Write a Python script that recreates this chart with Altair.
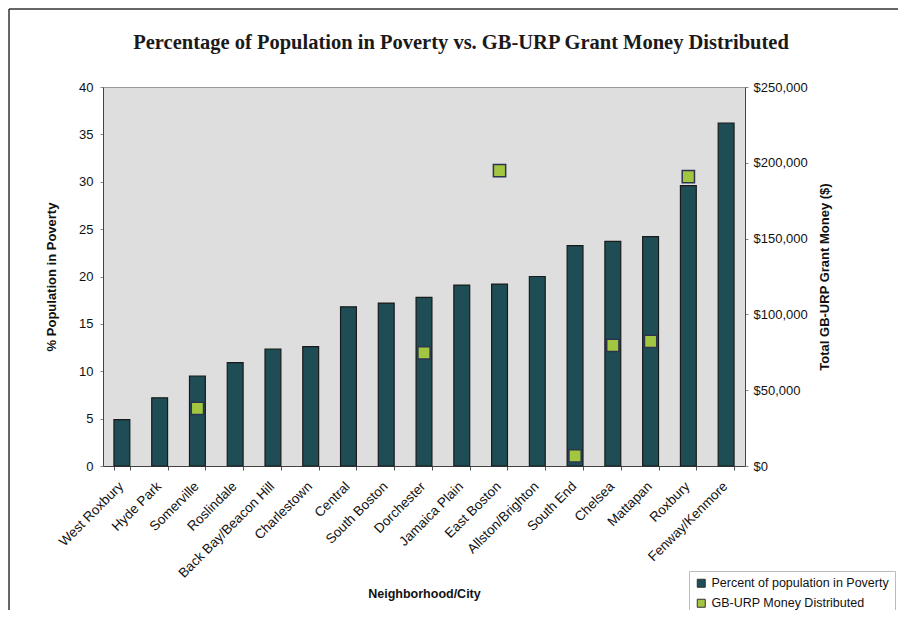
import altair as alt
import pandas as pd

neighborhoods = ["West Roxbury", "Hyde Park", "Somerville", "Roslindale", "Back Bay/Beacon Hill",
                 "Charlestown", "Central", "South Boston", "Dorchester", "Jamaica Plain",
                 "East Boston", "Allston/Brighton", "South End", "Chelsea", "Mattapan",
                 "Roxbury", "Fenway/Kenmore"]
poverty_pct = [4.9, 7.2, 9.5, 10.9, 12.35, 12.6, 16.8, 17.2, 17.8, 19.1,
               19.2, 20.0, 23.25, 23.7, 24.2, 29.6, 36.2]
grant_money = [None, None, 38000, None, None, None, None, None, 74700, None,
               194800, None, 6600, 79600, 82200, 190800, None]

SER_BAR = "Percent of population in Poverty"
SER_PT = "GB-URP Money Distributed"
TITLE = "Percentage of Population in Poverty vs. GB-URP Grant Money Distributed"

df = pd.DataFrame({"Neighborhood": neighborhoods, "poverty": poverty_pct, "money": grant_money})

FONT = "Liberation Sans"

x_enc = alt.X("Neighborhood:N", sort=neighborhoods,
              scale=alt.Scale(paddingInner=0.58, paddingOuter=0.29),
              axis=alt.Axis(title="Neighborhood/City", labelAngle=-45, labelFontSize=13.5,
                            labelFont=FONT, labelColor="#111", titleFont=FONT, titleFontSize=12.5,
                            titleFontWeight="bold", titleColor="#111", titleY=127,
                            titleBaseline="middle", tickBand="extent", tickSize=4,
                            tickColor="#555", domainColor="#444", labelPadding=9,
                            labelOffset=-6))

color_enc = alt.Color("series:N",
                      scale=alt.Scale(domain=[SER_BAR, SER_PT], range=["#1e4d56", "#a2c640"]),
                      legend=alt.Legend(title=None, orient="none", legendX=586, legendY=484,
                                        symbolType="square", symbolSize=64,
                                        symbolStrokeColor="#333", symbolStrokeWidth=1,
                                        labelFont=FONT, labelFontSize=12.5, labelColor="#111",
                                        labelLimit=0, rowPadding=7, padding=6,
                                        strokeColor="#bbb", fillColor="white"))

bars = alt.Chart(df).transform_calculate(series=f"'{SER_BAR}'").mark_bar(
    stroke="#1a1a1a", strokeWidth=1.2
).encode(
    x=x_enc,
    y=alt.Y("poverty:Q", scale=alt.Scale(domain=[0, 40]),
            axis=alt.Axis(title="% Population in Poverty", values=list(range(0, 41, 5)),
                          labelFontSize=13, labelFont=FONT, labelColor="#111", grid=False,
                          titleFont=FONT, titleFontSize=13, titleFontWeight="bold",
                          titleColor="#111", titlePadding=20, tickSize=3, tickColor="#888",
                          domainColor="#444", labelPadding=7)),
    color=color_enc,
)

points = alt.Chart(df).transform_filter("datum.money != null").transform_calculate(
    series=f"'{SER_PT}'").mark_square(
    size=150, filled=True, opacity=1, stroke="#2b3550", strokeWidth=1.5
).encode(
    x=alt.X("Neighborhood:N", sort=neighborhoods),
    y=alt.Y("money:Q", scale=alt.Scale(domain=[0, 250000]),
            axis=alt.Axis(title="Total GB-URP Grant Money ($)", orient="right",
                          values=list(range(0, 250001, 50000)), format="$,.0f",
                          labelFontSize=13, labelFont=FONT, labelColor="#111", grid=False,
                          titleFont=FONT, titleFontSize=13, titleFontWeight="bold",
                          titleColor="#111", titlePadding=24, titleAngle=-90,
                          tickSize=3, tickColor="#888", domainColor="#444", labelPadding=5)),
    color=color_enc,
)

aux_df = pd.DataFrame({"k": [0]})
frame_left = alt.Chart(aux_df).mark_rule(color="#333", strokeWidth=1.5).encode(
    x=alt.value(-94), y=alt.value(-78), y2=alt.value(530))
frame_top = alt.Chart(aux_df).mark_rule(color="#333", strokeWidth=1.5).encode(
    x=alt.value(-94), x2=alt.value(800), y=alt.value(-78))
title_text = alt.Chart(aux_df).mark_text(
    text=TITLE, font="Liberation Serif", fontSize=20.5, fontWeight="bold",
    color="#1a1a1a", align="center", baseline="middle"
).encode(x=alt.value(358), y=alt.value(-44))

chart = alt.layer(bars, points, frame_left, frame_top, title_text).resolve_scale(
    y="independent"
).properties(
    width=642, height=379,
    padding={"left": 95, "top": 79, "right": 153, "bottom": 144},
    autosize=alt.AutoSizeParams(type="none"),
).configure_view(fill="#dedede", stroke="#999")

chart.save("out.html", embed_options={"renderer": "svg", "actions": False})
